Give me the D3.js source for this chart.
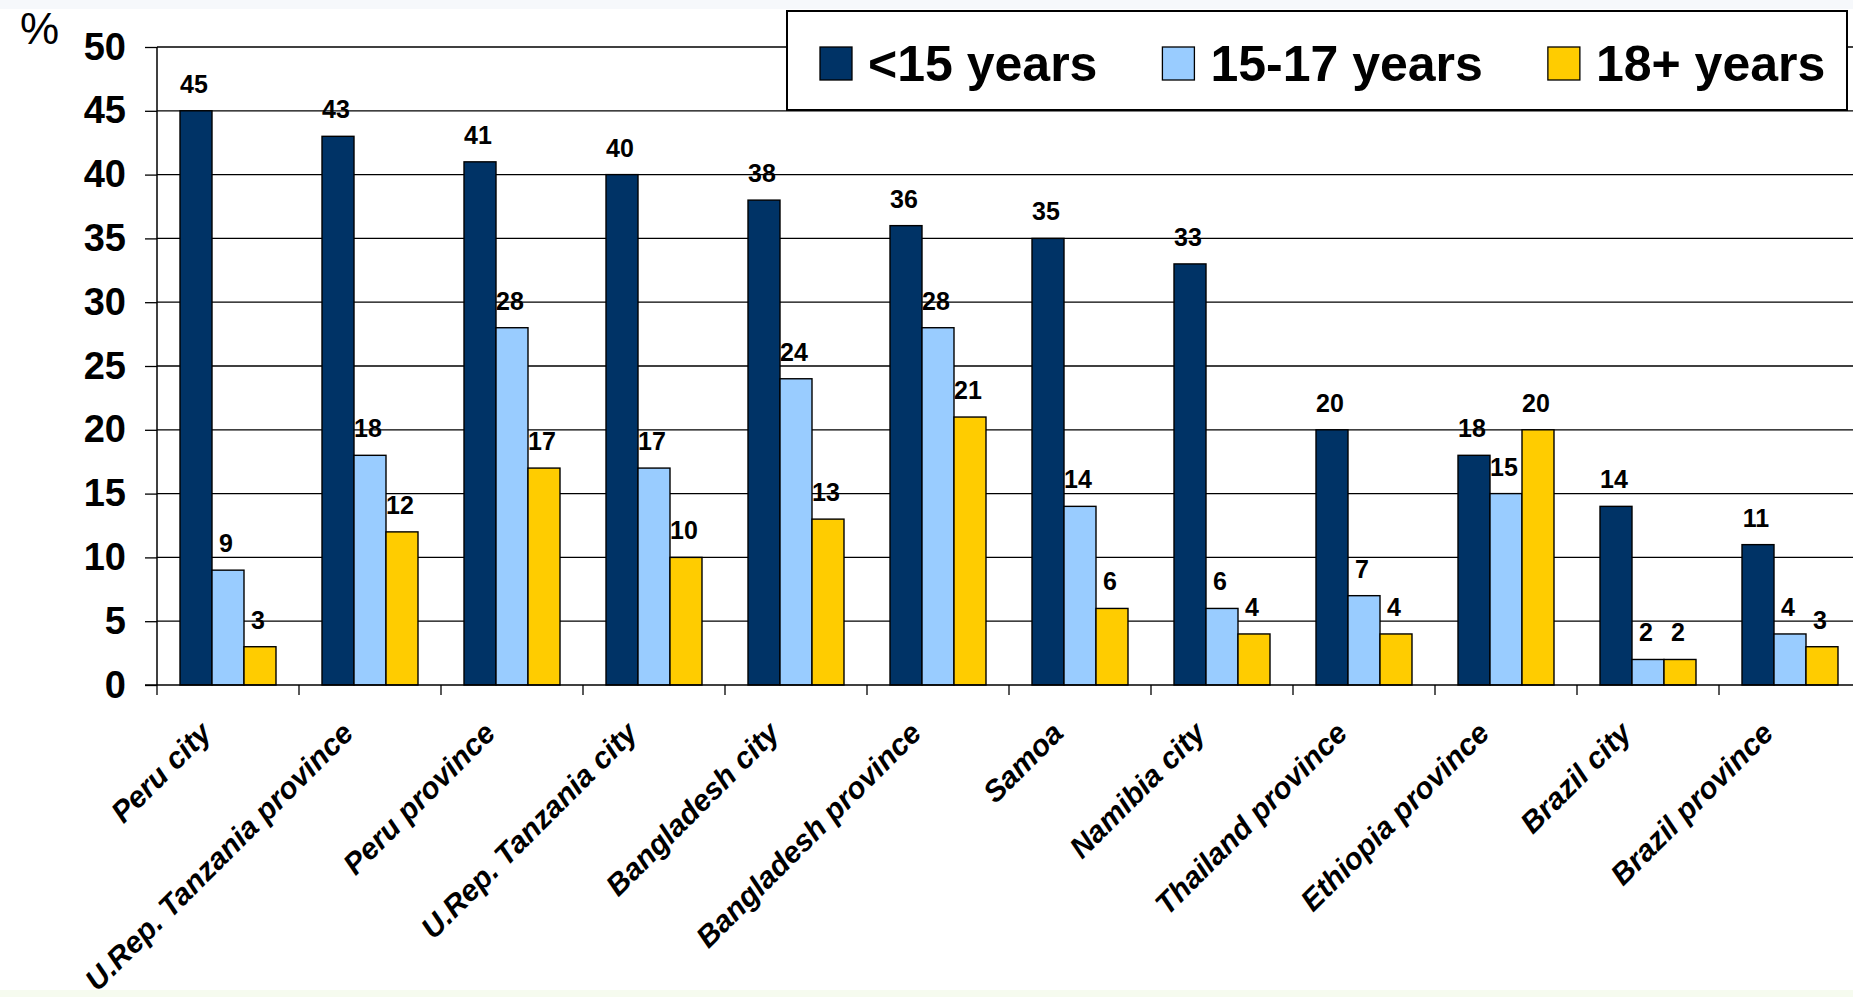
<!DOCTYPE html>
<html>
<meta charset="utf-8">
<style>
    body {
        margin: 0;
        background: #fff;
        overflow: hidden;
    }
    svg text {
        font-family: "Liberation Sans", Arial, sans-serif;
        fill: #000;
    }
    .grid line {
        stroke: #000;
        stroke-width: 1.3px;
    }
    .bar {
        stroke: #000;
        stroke-width: 1.4px;
    }
    .val {
        font-size: 25px;
        font-weight: bold;
        text-anchor: middle;
    }
    .cat {
        font-size: 30px;
        font-weight: bold;
        font-style: italic;
        text-anchor: end;
    }
</style>
<body>
<script src="https://cdnjs.cloudflare.com/ajax/libs/d3/7.8.5/d3.min.js"></script>
<script>
// share of first sexual experience by age group
var places = ["Peru city", "U.Rep. Tanzania province", "Peru province", "U.Rep. Tanzania city",
    "Bangladesh city", "Bangladesh province", "Samoa", "Namibia city",
    "Thailand province", "Ethiopia province", "Brazil city", "Brazil province"];
var groups = ["<15 years", "15-17 years", "18+ years"];
var under15 = [45, 43, 41, 40, 38, 36, 35, 33, 20, 18, 14, 11];
var age15to17 = [9, 18, 28, 17, 24, 28, 14, 6, 7, 15, 2, 4];
var age18plus = [3, 12, 17, 10, 13, 21, 6, 4, 4, 20, 2, 3];
var yTicks = [0, 5, 10, 15, 20, 25, 30, 35, 40, 45, 50];
var colors = ["#003366", "#99CCFF", "#FFCC00"];

var W = 1853, H = 997;
var plotLeft = 157, plotTop = 47, plotBottom = 685, plotRight = plotLeft + 142 * places.length;

var svg = d3.select("body").append("svg")
    .attr("width", W)
    .attr("height", H);

// faint strips along the page edges
svg.append("rect").attr("x", 0).attr("y", 0).attr("width", W).attr("height", 9).attr("fill", "#f6f8fb");
svg.append("rect").attr("x", 0).attr("y", 990).attr("width", W).attr("height", 7).attr("fill", "#f6fbef");

var x0 = d3.scaleBand().domain(places).range([plotLeft, plotRight]).paddingInner(0.324).paddingOuter(0.162);
var x1 = d3.scaleBand().domain(groups).range([0, x0.bandwidth()]);
var y = d3.scaleLinear().domain([0, 50]).range([plotBottom, plotTop]);
var color = d3.scaleOrdinal().domain(groups).range(colors);

// horizontal grid
svg.append("g").attr("class", "grid")
    .selectAll("line").data(yTicks.slice(1)).enter()
    .append("line")
    .attr("x1", plotLeft).attr("x2", W + 20)
    .attr("y1", function(d) { return y(d); })
    .attr("y2", function(d) { return y(d); });

var rows = places.map(function(p, i) {
    return { place: p, vals: [under15[i], age15to17[i], age18plus[i]] };
});

var g = svg.append("g").selectAll("g").data(rows).enter()
    .append("g")
    .attr("transform", function(d) { return "translate(" + x0(d.place) + ",0)"; });

g.selectAll("rect").data(function(d) {
        return d.vals.map(function(v, k) { return { key: groups[k], v: v }; });
    }).enter()
    .append("rect")
    .attr("class", "bar")
    .attr("x", function(d) { return x1(d.key); })
    .attr("width", x1.bandwidth())
    .attr("y", function(d) { return y(d.v); })
    .attr("height", function(d) { return plotBottom - y(d.v); })
    .attr("fill", function(d) { return color(d.key); });

g.selectAll("text").data(function(d) {
        return d.vals.map(function(v, k) { return { key: groups[k], v: v }; });
    }).enter()
    .append("text")
    .attr("class", "val")
    .attr("x", function(d) { return x1(d.key) + x1.bandwidth() / 2 - 2; })
    .attr("y", function(d) { return y(d.v) - 18; })
    .text(function(d) { return d.v; });

// y axis
var yAxis = d3.axisLeft(y).tickValues(yTicks).tickSize(12).tickPadding(19);
var ya = svg.append("g").attr("transform", "translate(" + plotLeft + ",0)").call(yAxis);
ya.select(".domain").attr("stroke", "#000").attr("stroke-width", 1.5).attr("d", "M0," + plotTop + "V" + plotBottom);
ya.selectAll(".tick line").attr("stroke", "#000").attr("stroke-width", 1.3);
ya.selectAll(".tick text")
    .style("font-size", "38px")
    .style("font-weight", "bold")
    .style("font-family", "'Liberation Sans', Arial, sans-serif")
    .attr("fill", "#000");

// x axis baseline with ticks between groups
var xa = svg.append("g");
xa.append("line")
    .attr("x1", plotLeft - 12).attr("x2", W + 20)
    .attr("y1", plotBottom).attr("y2", plotBottom)
    .attr("stroke", "#000").attr("stroke-width", 1.5);
xa.selectAll("line.tk").data(places).enter()
    .append("line").attr("class", "tk")
    .attr("x1", function(d) { return x0(d) - x0.step() * 0.162; })
    .attr("x2", function(d) { return x0(d) - x0.step() * 0.162; })
    .attr("y1", plotBottom).attr("y2", plotBottom + 10)
    .attr("stroke", "#000").attr("stroke-width", 1.3);

xa.selectAll("text").data(places).enter()
    .append("text")
    .attr("class", "cat")
    .attr("transform", function(d) {
        var cx = x0(d) + x0.bandwidth() / 2;
        return "translate(" + (cx - 15) + ",735) rotate(-45)";
    })
    .text(function(d) { return d; });

svg.append("text")
    .attr("x", 20).attr("y", 44)
    .style("font-size", "44px")
    .text("%");

// legend
var leg = svg.append("g");
leg.append("rect")
    .attr("x", 787).attr("y", 11).attr("width", 1060).attr("height", 99)
    .attr("fill", "#fff").attr("stroke", "#000").attr("stroke-width", 2);

var lx = 820;
groups.forEach(function(name, k) {
    leg.append("rect")
        .attr("x", lx).attr("y", 47).attr("width", 32).attr("height", 33)
        .attr("fill", colors[k]).attr("stroke", "#000").attr("stroke-width", 1.3);
    var t = leg.append("text")
        .attr("x", lx + 48).attr("y", 81)
        .style("font-size", "50px")
        .style("font-weight", "bold")
        .text(name);
    lx = lx + 48 + t.node().getComputedTextLength() + 65;
});
</script>
</body>
</html>
